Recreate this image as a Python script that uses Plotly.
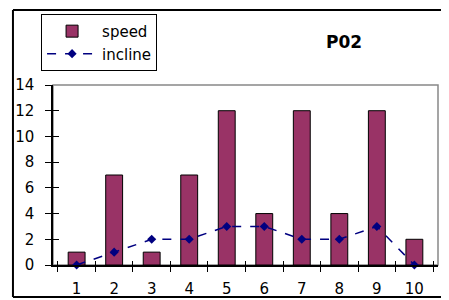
import plotly.graph_objects as go

categories = ["1", "2", "3", "4", "5", "6", "7", "8", "9", "10"]
speed = [1, 7, 1, 7, 12, 4, 12, 4, 12, 2]
incline = [0, 1, 2, 2, 3, 3, 2, 2, 3, 0]
y_ticks = [0, 2, 4, 6, 8, 10, 12, 14]

FONT = "DejaVu Sans, Verdana, sans-serif"

fig = go.Figure()
fig.add_trace(go.Bar(
    x=categories, y=speed, name="speed", width=0.45, legendgroup="a",
    marker=dict(color="#993366", line=dict(color="black", width=1)),
))
fig.add_trace(go.Scatter(
    x=categories, y=incline, name="incline", mode="lines+markers", legendgroup="b",
    line=dict(color="#000080", width=1.5, dash="dash"),
    marker=dict(symbol="diamond", size=7, color="#000080"),
    cliponaxis=False,
))
# invisible helper trace so the inner tick axes render
fig.add_trace(go.Scatter(
    x=categories, y=incline, xaxis="x2", yaxis="y2", mode="none",
    showlegend=False, hoverinfo="skip",
))

X0, X1, Y0, Y1 = -0.104, 1.0156, -0.178, 1.417
border = dict(color="black", width=2)

fig.update_layout(
    width=441, height=292,
    margin=dict(l=45, r=11, t=77, b=35, autoexpand=False),
    paper_bgcolor="white", plot_bgcolor="white",
    font=dict(family=FONT, size=15, color="black"),
    showlegend=True,
    legend=dict(x=-0.031, y=1.395, xanchor="left", yanchor="top",
                bordercolor="black", borderwidth=1, bgcolor="white",
                font=dict(size=15), tracegroupgap=0, itemwidth=50),
    bargap=0.55,
    xaxis=dict(type="category", showline=True, linecolor="black", linewidth=1.5,
               ticks="outside", ticklen=5, tickcolor="black", tickson="boundaries",
               showgrid=False, zeroline=False, ticklabelstandoff=9, automargin=False),
    xaxis2=dict(type="category", overlaying="x", matches="x", showline=False,
                ticks="inside", ticklen=4, tickcolor="black", tickson="boundaries",
                showticklabels=False, showgrid=False, zeroline=False, automargin=False),
    yaxis=dict(range=[0, 14], tickvals=y_ticks, showline=True, linecolor="black",
               linewidth=1.5, ticks="outside", ticklen=6, tickcolor="black",
               showgrid=False, zeroline=False, ticklabelstandoff=8, automargin=False),
    yaxis2=dict(range=[0, 14], tickvals=y_ticks, overlaying="y", side="left",
                ticks="inside", ticklen=6, tickcolor="black", showline=False,
                showticklabels=False, showgrid=False, zeroline=False, automargin=False),
    annotations=[dict(text="<b>P02</b>", x=0.757, y=1.239, xref="paper", yref="paper",
                      xanchor="center", yanchor="middle",
                      showarrow=False, font=dict(size=17))],
    shapes=[
        dict(type="rect", xref="paper", yref="paper", x0=0, x1=1, y0=0, y1=1,
             line=dict(color="#888888", width=1.5), layer="below"),
        dict(type="line", xref="paper", yref="paper", x0=X0, x1=X1, y0=Y1, y1=Y1, line=border),
        dict(type="line", xref="paper", yref="paper", x0=X0, x1=X1, y0=Y0, y1=Y0, line=border),
        dict(type="line", xref="paper", yref="paper", x0=X0, x1=X0, y0=Y0, y1=Y1, line=border),
        dict(type="line", xref="paper", yref="paper", x0=X1, x1=X1, y0=Y0, y1=Y1, line=border),
    ],
)

fig.write_html("out.html")
